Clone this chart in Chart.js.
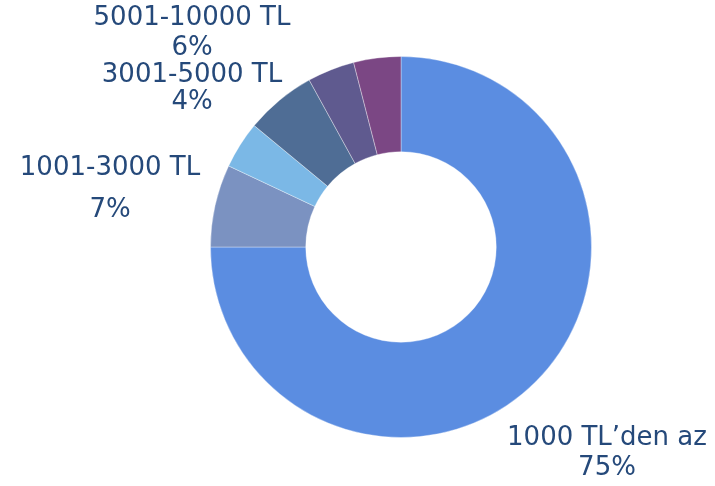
<!DOCTYPE html>
<html>
<head>
<meta charset="utf-8">
<script src="https://cdn.jsdelivr.net/npm/chart.js@4/dist/chart.umd.min.js"></script>
<style>
  html, body { margin: 0; padding: 0; background: #fff; }
  #wrap { width: 715px; height: 486px; }
</style>
</head>
<body>
<div id="wrap"><canvas id="incomeChart" width="715" height="486"></canvas></div>
<script>
// ----------------- Data -----------------
const categories = ['1000 TL\u2019den az', '1001-3000 TL', '3001-5000 TL', '5001-10000 TL', '10001-20000 TL', '20000 TL üzeri'];
const shares = [75, 7, 4, 6, 4, 4];
const shownLabels = [true, true, true, true, false, false];
const sliceColors = ['#5b8de1', '#7b92c1', '#7bb8e6', '#4f6d95', '#5f5a8f', '#7b4784'];

// where each label block sits (name line, value line), in canvas pixels
const labelSpots = [
  { x: 607, y1: 445, y2: 475 },
  { x: 110, y1: 175, y2: 217 },
  { x: 192, y1: 82, y2: 109 },
  { x: 192, y1: 25, y2: 55 }
];

// ----------------- Label plugin -----------------
const sliceLabels = {
  id: 'sliceLabels',
  afterDraw(chart) {
    const c = chart.ctx;
    c.save();
    c.font = '26px "DejaVu Sans"';
    c.fillStyle = '#25497a';
    c.textAlign = 'center';
    c.textBaseline = 'alphabetic';
    let k = 0;
    categories.forEach((name, i) => {
      if (!shownLabels[i]) return;
      const spot = labelSpots[k++];
      c.fillText(name, spot.x, spot.y1);
      c.fillText(shares[i] + '%', spot.x, spot.y2);
    });
    c.restore();
  }
};

// ----------------- Chart -----------------
const ctx = document.getElementById('incomeChart').getContext('2d');
new Chart(ctx, {
  type: 'doughnut',
  data: {
    labels: categories,
    datasets: [{
      data: shares,
      backgroundColor: sliceColors,
      borderColor: 'rgba(255,255,255,0.35)',
      borderWidth: 1
    }]
  },
  options: {
    responsive: false,
    animation: false,
    cutout: '50%',
    layout: { padding: { left: 210, right: 123, top: 56, bottom: 48 } },
    plugins: {
      legend: { display: false },
      tooltip: { enabled: false }
    }
  },
  plugins: [sliceLabels]
});
</script>
</body>
</html>
